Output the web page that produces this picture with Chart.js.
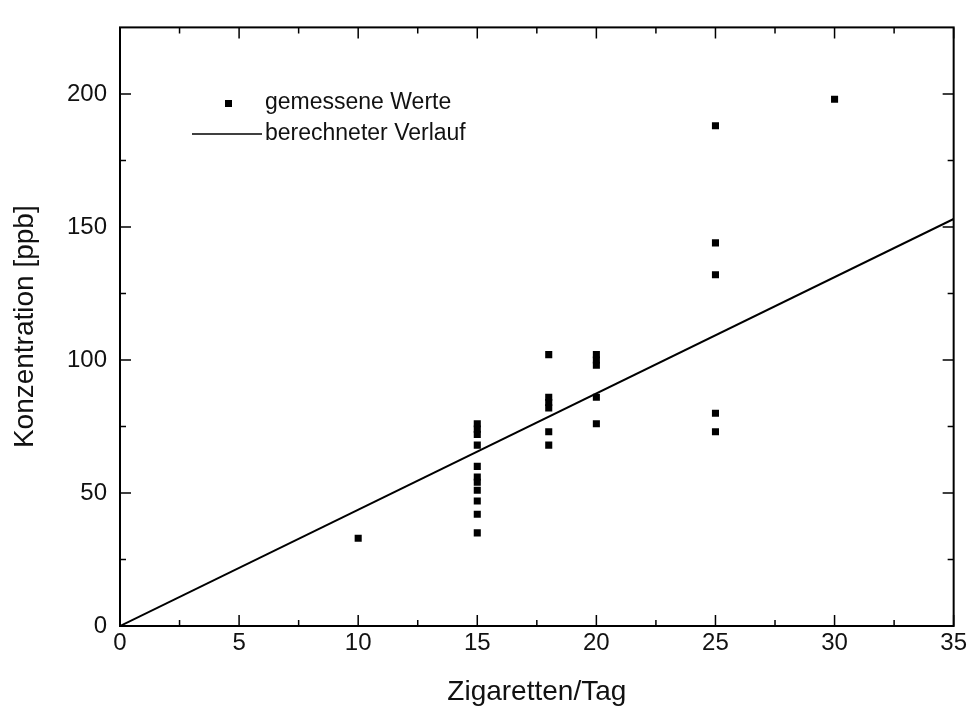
<!doctype html>
<html>
  <head>
    <title>Konzentration vs. Zigaretten</title>
    <script src="https://cdn.jsdelivr.net/npm/chart.js@4.4.0/dist/chart.umd.min.js"></script>
    <style>
      body { margin: 0; background: #fff; }
      #wrap { width: 970px; height: 709px; }
    </style>
  </head>
  <body>
    <div id="wrap">
      <canvas id="chart" width="970" height="709"></canvas>
    </div>
  <script>
    // measured values (cigarettes per day -> concentration)
    const messX = [10,
      15, 15, 15, 15, 15, 15, 15, 15, 15, 15, 15,
      18, 18, 18, 18, 18, 18,
      20, 20, 20, 20, 20,
      25, 25, 25, 25, 25,
      30];
    const messY = [33,
      35, 42, 47, 51, 54, 56, 60, 68, 72, 74, 76,
      68, 73, 82, 84, 86, 102,
      76, 86, 98, 100, 102,
      73, 80, 132, 144, 188,
      198];

    // calculated course
    const fitX = [0, 35];
    const fitY = [0, 153];

    const xTicks = [0, 5, 10, 15, 20, 25, 30, 35];
    const yTicks = [0, 50, 100, 150, 200];
    const xMinor = [2.5, 7.5, 12.5, 17.5, 22.5, 27.5, 32.5];
    const yMinor = [25, 75, 125, 175];

    const labelMess = 'gemessene Werte';
    const labelFit = 'berechneter Verlauf';

    const FONT = '"Liberation Sans", Arial, sans-serif';

    const frameTicks = {
      id: 'frameTicks',
      afterDatasetsDraw(chart) {
        const ctx = chart.ctx;
        const a = chart.chartArea;
        const xs = chart.scales.x;
        const ys = chart.scales.y;
        ctx.save();
        ctx.strokeStyle = '#000';
        ctx.lineWidth = 2;
        ctx.strokeRect(a.left, a.top, a.right - a.left, a.bottom - a.top);
        ctx.lineWidth = 1.5;
        const tick = (vals, len) => {
          ctx.beginPath();
          vals.forEach(v => {
            const px = xs.getPixelForValue(v);
            ctx.moveTo(px, a.bottom); ctx.lineTo(px, a.bottom - len);
            ctx.moveTo(px, a.top); ctx.lineTo(px, a.top + len);
          });
          ctx.stroke();
        };
        const tickY = (vals, len) => {
          ctx.beginPath();
          vals.forEach(v => {
            const py = ys.getPixelForValue(v);
            ctx.moveTo(a.left, py); ctx.lineTo(a.left + len, py);
            ctx.moveTo(a.right, py); ctx.lineTo(a.right - len, py);
          });
          ctx.stroke();
        };
        tick(xTicks, 11);
        tick(xMinor, 6);
        tickY(yTicks, 11);
        tickY(yMinor, 6);

        // legend inside the plot
        ctx.fillStyle = '#000';
        ctx.fillRect(225, 100, 7, 7);
        ctx.lineWidth = 1.5;
        ctx.beginPath();
        ctx.moveTo(192, 134); ctx.lineTo(262, 134);
        ctx.stroke();
        ctx.font = '23px ' + FONT;
        ctx.fillStyle = '#111';
        ctx.textBaseline = 'middle';
        ctx.textAlign = 'left';
        ctx.fillText(chart.data.datasets[0].label, 265, 103);
        ctx.fillText(chart.data.datasets[1].label, 265, 134);
        ctx.restore();
      }
    };

    const chart = new Chart(document.getElementById('chart').getContext('2d'), {
      type: 'scatter',
      data: {
        datasets: [{
          label: labelMess,
          data: messX.map((x, i) => ({x: x, y: messY[i]})),
          pointStyle: 'rect',
          pointRadius: 5,
          pointHoverRadius: 5,
          backgroundColor: '#000',
          borderColor: '#000',
          borderWidth: 0,
          showLine: false
        }, {
          label: labelFit,
          data: fitX.map((x, i) => ({x: x, y: fitY[i]})),
          showLine: true,
          borderColor: '#000',
          borderWidth: 2,
          pointRadius: 0,
          pointHoverRadius: 0,
          fill: false
        }]
      },
      options: {
        responsive: false,
        animation: false,
        layout: { padding: { top: 14, right: 15, left: 0, bottom: 0 } },
        plugins: {
          legend: { display: false },
          tooltip: { enabled: false }
        },
        scales: {
          x: {
            type: 'linear',
            min: 0,
            max: 35,
            grid: { display: false, drawTicks: false },
            border: { display: false },
            afterBuildTicks: s => { s.ticks = xTicks.map(v => ({value: v})); },
            afterFit: s => { s.height = 83; },
            ticks: {
              color: '#111',
              padding: 3,
              maxRotation: 0,
              font: { family: FONT, size: 24 }
            },
            title: {
              display: true,
              text: 'Zigaretten/Tag',
              color: '#111',
              padding: { top: 0, bottom: 0 },
              font: { family: FONT, size: 28 }
            }
          },
          y: {
            type: 'linear',
            min: 0,
            max: 225,
            grid: { display: false, drawTicks: false },
            border: { display: false },
            afterBuildTicks: s => { s.ticks = yTicks.map(v => ({value: v})); },
            afterFit: s => { s.width = 120; },
            ticks: {
              color: '#111',
              padding: 13,
              font: { family: FONT, size: 24 }
            },
            title: {
              display: true,
              text: 'Konzentration [ppb]',
              color: '#111',
              padding: { top: 8, bottom: 0 },
              font: { family: FONT, size: 28 }
            }
          }
        }
      },
      plugins: [frameTicks]
    });
  </script>
  </body>
</html>
